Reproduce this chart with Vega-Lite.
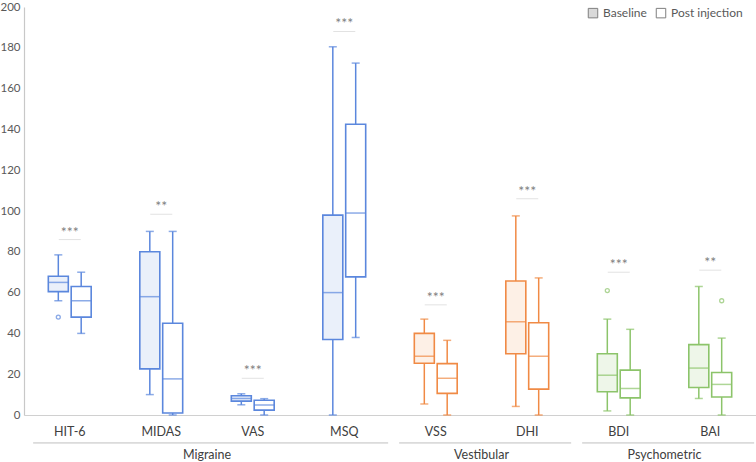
{
  "$schema": "https://vega.github.io/schema/vega-lite/v6.json",
  "width": 732,
  "height": 408,
  "autosize": {"type": "none"},
  "padding": {"left": 24, "top": 7, "right": 0, "bottom": 47},
  "config": {
    "view": {"stroke": null},
    "font": "Lato",
    "text": {"font": "Lato"}
  },
  "datasets": {
    "boxes": [
      {"cat": "HIT-6", "group": "Migraine", "series": "Baseline", "lo": 56, "q1": 60.5, "med": 65, "q3": 68, "hi": 78.5},
      {"cat": "HIT-6", "group": "Migraine", "series": "Post injection", "lo": 40, "q1": 48, "med": 56, "q3": 63, "hi": 70},
      {"cat": "MIDAS", "group": "Migraine", "series": "Baseline", "lo": 10, "q1": 22.6, "med": 58, "q3": 80, "hi": 90},
      {"cat": "MIDAS", "group": "Migraine", "series": "Post injection", "lo": 0, "q1": 1, "med": 17.7, "q3": 45, "hi": 90},
      {"cat": "VAS", "group": "Migraine", "series": "Baseline", "lo": 5, "q1": 6.8, "med": 8.1, "q3": 9.4, "hi": 10.4},
      {"cat": "VAS", "group": "Migraine", "series": "Post injection", "lo": 0, "q1": 2.4, "med": 4.9, "q3": 7.2, "hi": 8},
      {"cat": "MSQ", "group": "Migraine", "series": "Baseline", "lo": 0, "q1": 37, "med": 60, "q3": 98, "hi": 180.5},
      {"cat": "MSQ", "group": "Migraine", "series": "Post injection", "lo": 38, "q1": 67.7, "med": 99, "q3": 142.5, "hi": 172.5},
      {"cat": "VSS", "group": "Vestibular", "series": "Baseline", "lo": 5.4, "q1": 25.4, "med": 28.8, "q3": 40, "hi": 47},
      {"cat": "VSS", "group": "Vestibular", "series": "Post injection", "lo": 0, "q1": 10.6, "med": 18, "q3": 25.2, "hi": 36.6},
      {"cat": "DHI", "group": "Vestibular", "series": "Baseline", "lo": 4.2, "q1": 30, "med": 45.7, "q3": 65.7, "hi": 97.6},
      {"cat": "DHI", "group": "Vestibular", "series": "Post injection", "lo": 0, "q1": 12.7, "med": 28.8, "q3": 45.2, "hi": 67.2},
      {"cat": "BDI", "group": "Psychometric", "series": "Baseline", "lo": 2, "q1": 11.4, "med": 19.5, "q3": 30, "hi": 47},
      {"cat": "BDI", "group": "Psychometric", "series": "Post injection", "lo": 0, "q1": 8.4, "med": 13, "q3": 22, "hi": 42},
      {"cat": "BAI", "group": "Psychometric", "series": "Baseline", "lo": 8.1, "q1": 13.5, "med": 23, "q3": 34.5, "hi": 63},
      {"cat": "BAI", "group": "Psychometric", "series": "Post injection", "lo": 0, "q1": 8.8, "med": 15, "q3": 20.8, "hi": 37.7}
    ],
    "outliers": [
      {"cat": "HIT-6", "group": "Migraine", "series": "Baseline", "value": 48},
      {"cat": "BDI", "group": "Psychometric", "series": "Baseline", "value": 61},
      {"cat": "BAI", "group": "Psychometric", "series": "Post injection", "value": 56}
    ],
    "sig": [
      {"cat": "HIT-6", "stars": "***", "y": 86},
      {"cat": "MIDAS", "stars": "**", "y": 98.4},
      {"cat": "VAS", "stars": "***", "y": 18},
      {"cat": "MSQ", "stars": "***", "y": 188},
      {"cat": "VSS", "stars": "***", "y": 54},
      {"cat": "DHI", "stars": "***", "y": 106},
      {"cat": "BDI", "stars": "***", "y": 70},
      {"cat": "BAI", "stars": "**", "y": 71}
    ],
    "groups": [
      {"group": "Migraine", "start": "HIT-6", "mid": "MIDAS", "end": "MSQ"},
      {"group": "Vestibular", "start": "VSS", "mid": "VSS", "end": "DHI"},
      {"group": "Psychometric", "start": "BDI", "mid": "BDI", "end": "BAI"}
    ]
  },
  "encoding": {
    "x": {
      "field": "cat",
      "type": "nominal",
      "sort": null,
      "scale": {"type": "band", "domain": ["HIT-6", "MIDAS", "VAS", "MSQ", "VSS", "DHI", "BDI", "BAI"], "paddingInner": 0, "paddingOuter": 0},
      "axis": {"title": null, "labelAngle": 0, "ticks": false, "domainColor": "#d0d0d0", "domainWidth": 1.2, "labelFontSize": 12.5, "labelColor": "#404040", "labelPadding": 10, "labelFont": "Lato"}
    }
  },
  "layer": [
    {
      "data": {"name": "boxes"},
      "mark": {"type": "rule", "strokeWidth": 1.5},
      "encoding": {
        "xOffset": {"field": "series", "type": "nominal", "scale": {"domain": ["Baseline", "Post injection"], "paddingInner": 0, "paddingOuter": 1.08}},
        "y": {"field": "lo", "type": "quantitative", "scale": {"domain": [0, 200], "nice": false, "zero": true}, "axis": {"title": null, "values": [0, 20, 40, 60, 80, 100, 120, 140, 160, 180, 200], "grid": false, "ticks": false, "domainColor": "#c8c8c8", "domainWidth": 1.2, "labelFontSize": 11.5, "labelColor": "#595959", "labelPadding": 4, "labelFont": "Lato"}},
        "y2": {"field": "q1"},
        "stroke": {"field": "group", "type": "nominal", "scale": {"domain": ["Migraine", "Vestibular", "Psychometric"], "range": ["#5b87dd", "#f08a45", "#8cc46a"]}, "legend": null}
      }
    },
    {
      "data": {"name": "boxes"},
      "mark": {"type": "rule", "strokeWidth": 1.5},
      "encoding": {
        "xOffset": {"field": "series", "type": "nominal"},
        "y": {"field": "q3", "type": "quantitative"},
        "y2": {"field": "hi"},
        "stroke": {"field": "group", "type": "nominal"}
      }
    },
    {
      "data": {"name": "boxes"},
      "mark": {"type": "tick", "size": 8, "thickness": 1.5},
      "encoding": {
        "xOffset": {"field": "series", "type": "nominal"},
        "y": {"field": "hi", "type": "quantitative"},
        "color": {"field": "group", "type": "nominal", "scale": {"domain": ["Migraine", "Vestibular", "Psychometric"], "range": ["#5b87dd", "#f08a45", "#8cc46a"]}, "legend": null}
      }
    },
    {
      "data": {"name": "boxes"},
      "mark": {"type": "tick", "size": 8, "thickness": 1.5},
      "encoding": {
        "xOffset": {"field": "series", "type": "nominal"},
        "y": {"field": "lo", "type": "quantitative"},
        "color": {"field": "group", "type": "nominal", "legend": null}
      }
    },
    {
      "data": {"name": "boxes"},
      "mark": {"type": "bar", "width": 20, "strokeWidth": 1.6},
      "encoding": {
        "xOffset": {"field": "series", "type": "nominal"},
        "y": {"field": "q1", "type": "quantitative"},
        "y2": {"field": "q3"},
        "stroke": {"field": "group", "type": "nominal"},
        "fill": {"field": "group", "type": "nominal", "scale": {"domain": ["Migraine", "Vestibular", "Psychometric"], "range": ["#eaf0fa", "#fdf0e6", "#eef6e9"]}, "legend": null},
        "fillOpacity": {"field": "series", "type": "nominal", "scale": {"domain": ["Baseline", "Post injection"], "range": [1, 0]}, "legend": null}
      }
    },
    {
      "data": {"name": "boxes"},
      "mark": {"type": "tick", "size": 20, "thickness": 1.5},
      "encoding": {
        "xOffset": {"field": "series", "type": "nominal"},
        "y": {"field": "med", "type": "quantitative"},
        "color": {"field": "group", "type": "nominal", "legend": null}
      }
    },
    {
      "data": {"name": "outliers"},
      "mark": {"type": "point", "shape": "circle", "size": 16, "filled": false, "strokeWidth": 1.3},
      "encoding": {
        "xOffset": {"field": "series", "type": "nominal"},
        "y": {"field": "value", "type": "quantitative"},
        "stroke": {"field": "group", "type": "nominal"}
      }
    },
    {
      "data": {"name": "sig"},
      "mark": {"type": "tick", "size": 22, "thickness": 1, "color": "#d6d6d6"},
      "encoding": {
        "y": {"field": "y", "type": "quantitative"}
      }
    },
    {
      "data": {"name": "sig"},
      "mark": {"type": "text", "dy": -7, "fontSize": 14, "color": "#808080", "baseline": "middle"},
      "encoding": {
        "y": {"field": "y", "type": "quantitative"},
        "text": {"field": "stars"}
      }
    },
    {
      "data": {"name": "groups"},
      "mark": {"type": "rule", "color": "#bfbfbf", "strokeWidth": 1},
      "encoding": {
        "x": {"field": "start", "type": "nominal", "bandPosition": 0.1},
        "x2": {"field": "end", "bandPosition": 0.98},
        "y": {"datum": -13.7}
      }
    },
    {
      "data": {"name": "groups"},
      "mark": {"type": "text", "fontSize": 12.5, "color": "#404040", "baseline": "middle"},
      "encoding": {
        "x": {"field": "mid", "type": "nominal", "bandPosition": 1},
        "y": {"datum": -19.8},
        "text": {"field": "group"}
      }
    },
    {
      "data": {"name": "boxes"},
      "mark": {"type": "point", "shape": "square", "filled": true, "opacity": 0},
      "encoding": {
        "y": {"field": "med", "type": "quantitative"},
        "fill": {"field": "series", "type": "nominal", "scale": {"domain": ["Baseline", "Post injection"], "range": ["#d9d9d9", "#ffffff"]}, "legend": {"title": null, "orient": "none", "legendX": 563, "legendY": 0, "direction": "horizontal", "symbolType": "square", "symbolSize": 90, "symbolStrokeColor": "#7f7f7f", "symbolStrokeWidth": 1, "symbolOpacity": 1, "labelFontSize": 12, "labelColor": "#595959", "labelFont": "Lato", "labelOffset": 4, "columnPadding": 7}}
      }
    }
  ],
  "resolve": {"scale": {"fill": "independent"}, "legend": {"fill": "independent"}}
}
